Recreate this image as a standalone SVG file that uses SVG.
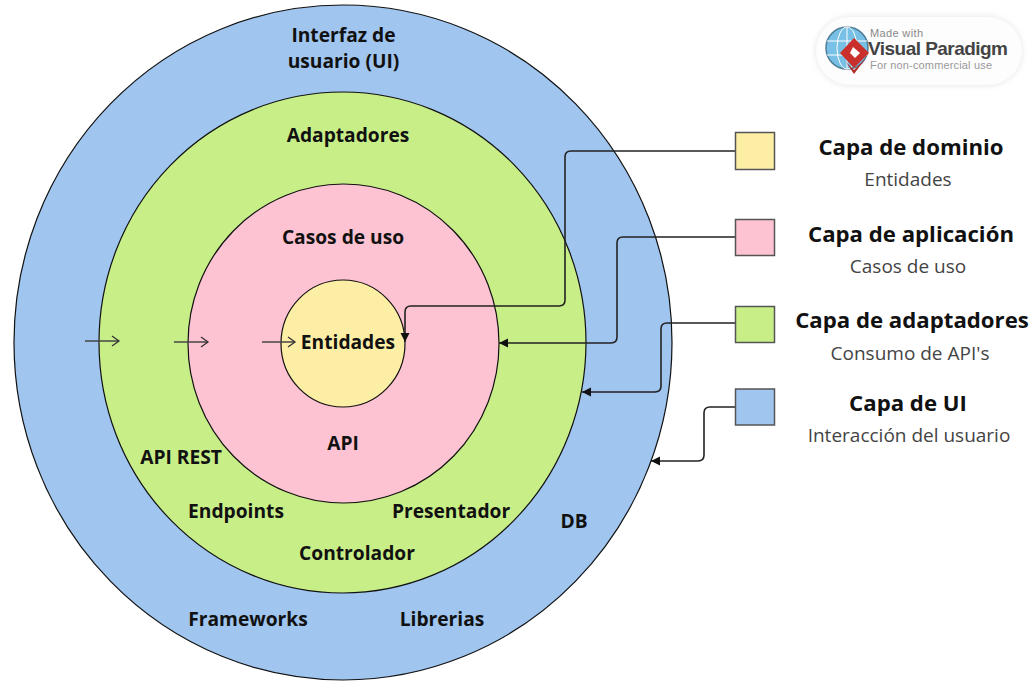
<svg xmlns="http://www.w3.org/2000/svg" width="1035" height="681" viewBox="0 0 1035 681">
<defs>
<marker id="tri" markerUnits="userSpaceOnUse" markerWidth="10" markerHeight="10" refX="9" refY="5" orient="auto"><path d="M0,0.5 L9,5 L0,9.5 Z" fill="#111"/></marker>
<marker id="open" markerUnits="userSpaceOnUse" markerWidth="12" markerHeight="12" refX="10" refY="6" orient="auto"><path d="M3,1 L10,6 L3,11" fill="none" stroke="#333" stroke-width="1.3"/></marker>
<filter id="soft" x="-10%" y="-20%" width="120%" height="140%"><feGaussianBlur stdDeviation="3"/></filter>
</defs>
<style>
text{font-family:"Open Sans","Noto Sans","DejaVu Sans",sans-serif;text-anchor:middle}
.ring{stroke:#111;stroke-width:1.2}
.lbl{font-size:19.200px;font-weight:700;fill:#111}
.key{stroke:#555;stroke-width:1.5}
.title{font-size:22.200px;font-weight:700;fill:#111}
.sub{font-size:19px;fill:#444}
.con{fill:none;stroke:#222;stroke-width:1.6;marker-end:url(#tri)}
.flow{fill:none;stroke:#444;stroke-width:1.3;marker-end:url(#open)}
.wm{font-family:"Liberation Sans",sans-serif;text-anchor:start}
</style>
<rect width="1035" height="681" fill="#fff"/>
<g id="node-ui"><ellipse class="ring" cx="343" cy="342.500" rx="329" ry="337.500" fill="#a0c5ee"/></g>
<g id="node-adaptadores"><ellipse class="ring" cx="342.500" cy="342.500" rx="243.500" ry="250.500" fill="#c8ee88"/></g>
<g id="node-casos"><ellipse class="ring" cx="343.500" cy="343.500" rx="155.500" ry="159.500" fill="#fec3d2"/></g>
<g id="node-entidades"><ellipse class="ring" cx="343" cy="343.500" rx="62" ry="63.500" fill="#fdeea5"/></g>
<g id="connectors">
<path class="con" d="M735,151 H571 Q565,151 565,157 V300 Q565,306 559,306 H411 Q405,306 405,312 V342"/>
<path class="con" d="M735,237 H623 Q617,237 617,243 V337 Q617,343 611,343 H499"/>
<path class="con" d="M735,323 H667 Q661,323 661,329 V386 Q661,392 655,392 H582"/>
<path class="con" d="M735,407 H710 Q704,407 704,413 V455 Q704,461 698,461 H651"/>
<path class="flow" d="M85,341 H119"/>
<path class="flow" d="M174,342 H208"/>
<path class="flow" d="M262,342 H295"/>
</g>
<g id="labels-circles">
<text class="lbl" x="343.500" y="41.500">Interfaz de</text>
<text class="lbl" x="343.500" y="68">usuario (UI)</text>
<text class="lbl" x="348" y="142">Adaptadores</text>
<text class="lbl" x="343" y="244">Casos de uso</text>
<text class="lbl" x="348" y="349">Entidades</text>
<text class="lbl" x="343" y="450">API</text>
<text class="lbl" x="181" y="464">API REST</text>
<text class="lbl" x="236" y="518">Endpoints</text>
<text class="lbl" x="451" y="518">Presentador</text>
<text class="lbl" x="574" y="528">DB</text>
<text class="lbl" x="357" y="560">Controlador</text>
<text class="lbl" x="248" y="626">Frameworks</text>
<text class="lbl" x="442" y="626">Librerias</text>
</g>
<g id="legend-dominio"><rect class="key" x="735.500" y="132.500" width="39" height="37" fill="#fdeea5"/><text class="title" x="911" y="155">Capa de dominio</text><text class="sub" x="908" y="186">Entidades</text></g>
<g id="legend-aplicacion"><rect class="key" x="735.500" y="219.500" width="39" height="36" fill="#fec3d2"/><text class="title" x="911" y="242">Capa de aplicación</text><text class="sub" x="908" y="273">Casos de uso</text></g>
<g id="legend-adaptadores"><rect class="key" x="735.500" y="306.500" width="39" height="36" fill="#c8ee88"/><text class="title" x="912" y="328">Capa de adaptadores</text><text class="sub" x="910" y="360">Consumo de API's</text></g>
<g id="legend-ui"><rect class="key" x="735.500" y="389" width="39" height="36" fill="#a0c5ee"/><text class="title" x="908" y="411">Capa de UI</text><text class="sub" x="909" y="442">Interacción del usuario</text></g>
<g id="watermark">
<rect x="816" y="17" width="206" height="68" rx="34" fill="#e4e4e4" filter="url(#soft)"/>
<rect x="816" y="17" width="206" height="68" rx="34" fill="#fdfdfd"/>
<circle cx="847" cy="48" r="21" fill="#78c0e6" stroke="#4f7f99" stroke-width="1.500"/>
<ellipse cx="847" cy="48" rx="10" ry="21" fill="none" stroke="#fff"/>
<path d="M827,41 H867 M827,55 H867 M847,27 V69" stroke="#fff" fill="none"/>
<path d="M854,38 L869,53 L854,68 L840,53 Z" fill="#c9302c"/>
<path d="M846,62 L854,70 L866,58 L854,74 Z" fill="#b22a27"/>
<path d="M853,47 L860,53 L855,58 L850,53 Z" fill="#fff"/>
<text class="wm" x="870" y="37" font-size="11" fill="#888" textLength="53">Made with</text>
<text class="wm" x="868" y="55" font-size="19" font-weight="700" fill="#444" textLength="140">Visual Paradigm</text>
<text class="wm" x="870" y="69" font-size="11" fill="#999" textLength="122">For non-commercial use</text>
</g>
</svg>
